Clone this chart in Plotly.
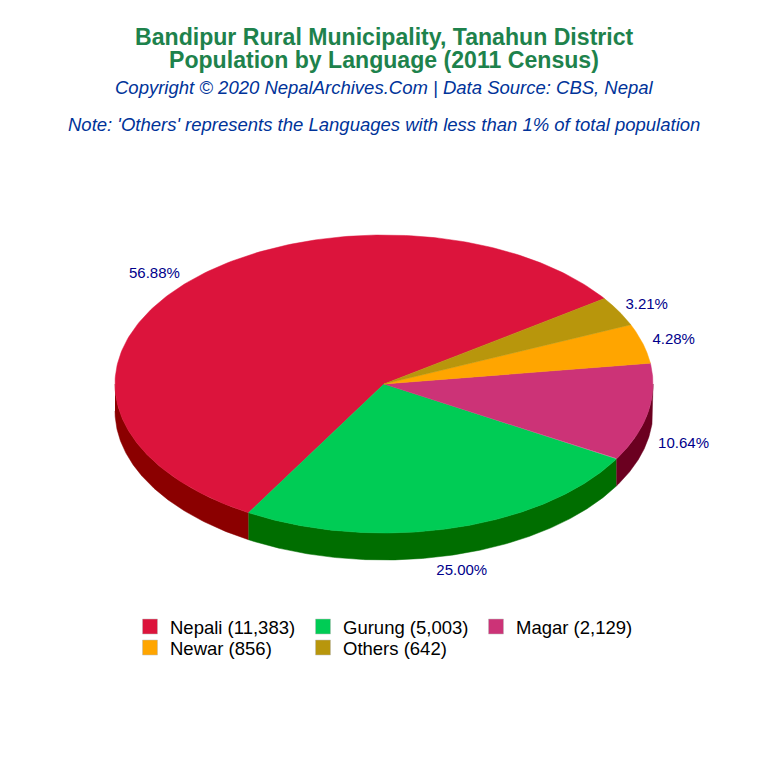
import numpy as np
import plotly.graph_objects as go

### Data ###
languages = ['Nepali', 'Gurung', 'Magar', 'Newar', 'Others']
population = [11383, 5003, 2129, 856, 642]
percent_labels = ['56.88%', '25.00%', '10.64%', '4.28%', '3.21%']
top_colors = ['#DC143C', '#00CC55', '#CC3377', '#FFA500', '#B8960C']
side_colors = ['#8B0000', '#006E00', '#6B0020', '#B87700', '#7A6408']
legend_groups = ['legend', 'legend', 'legend', 'legend2', 'legend2']

title_lines = ['Bandipur Rural Municipality, Tanahun District',
               'Population by Language (2011 Census)']
subtitle = 'Copyright © 2020 NepalArchives.Com | Data Source: CBS, Nepal'
note = "Note: 'Others' represents the Languages with less than 1% of total population"

### Pie geometry (pixel space of the 768 x 768 page) ###
cx, cy = 384, 384
rx, ry = 269, 149
depth = 27
start_angle = 35

total = sum(population)
sweeps = [p / total * 360 for p in population]
starts = start_angle + np.cumsum([0] + sweeps[:-1])
ends = starts + np.array(sweeps)


def arc(a0, a1, drop=0):
    t = np.radians(np.linspace(a0, a1, 200))
    return cx + rx * np.cos(t), cy - ry * np.sin(t) + drop


fig = go.Figure()

# side walls, only the front half of the rim shows
for a0, a1, color in zip(starts, ends, side_colors):
    for lo, hi in [(180, 360), (540, 720)]:
        s, e = max(a0, lo), min(a1, hi)
        if s >= e:
            continue
        x1, y1 = arc(s, e)
        x2, y2 = arc(e, s, depth)
        fig.add_trace(go.Scatter(x=np.r_[x1, x2], y=np.r_[y1, y2], mode='lines',
                                 fill='toself', fillcolor=color,
                                 line=dict(color=color, width=0.5),
                                 hoverinfo='skip', showlegend=False))

# top face
for a0, a1, color in zip(starts, ends, top_colors):
    x1, y1 = arc(a0, a1)
    fig.add_trace(go.Scatter(x=np.r_[cx, x1, cx], y=np.r_[cy, y1, cy], mode='lines',
                             fill='toself', fillcolor=color,
                             line=dict(color=color, width=0.5),
                             hoverinfo='skip', showlegend=False))

# percent labels, pushed out from the rim along the mid angle of the slice
mids = np.radians((starts + ends) / 2)
label_x = []
label_y = []
for mid, label in zip(mids, percent_labels):
    w = 8.5 * len(label)
    push = 1.04 if np.cos(mid) > 0 else 1.065
    label_x.append(cx + push * rx * np.cos(mid) + w * np.cos(mid) / 2)
    drop = depth + 2 if np.sin(mid) < 0 else 1
    label_y.append(cy - 1.05 * ry * np.sin(mid) - 7 * np.sin(mid) + drop)
fig.add_trace(go.Scatter(x=label_x, y=label_y, mode='text', text=percent_labels,
                         textposition='middle center',
                         textfont=dict(family='Liberation Sans', size=15, color='#00008B'),
                         hoverinfo='skip', showlegend=False))

# legend entries, one legend per row so the rows can sit as tight as the original
for lang, pop, color, group in zip(languages, population, top_colors, legend_groups):
    fig.add_trace(go.Scatter(x=[None], y=[None], mode='markers', name=f'{lang} ({pop:,})',
                             legend=group,
                             marker=dict(symbol='square', size=15, color=color,
                                         line=dict(color='#BBBBBB', width=0.5))))


def page_text(text, y, size, color, bold=False, italic=False):
    fig.add_annotation(x=0.5, y=1 - y / 768, xref='paper', yref='paper',
                       text=f'<b>{text}</b>' if bold else text, showarrow=False,
                       xanchor='center', yanchor='middle',
                       font=dict(family='Liberation Sans', size=size, color=color,
                                 style='italic' if italic else 'normal'))


page_text(title_lines[0], 37, 23.1, '#1E824C', bold=True)
page_text(title_lines[1], 60, 23.1, '#1E824C', bold=True)
page_text(subtitle, 87, 18.5, '#003399', italic=True)
page_text(note, 124, 18.5, '#003399', italic=True)

legend_style = dict(orientation='h', xanchor='left', yanchor='top',
                    entrywidth=128, entrywidthmode='pixels',
                    bgcolor='rgba(0,0,0,0)',
                    font=dict(family='Liberation Sans', size=18.5, color='black'))

fig.update_layout(width=768, height=768,
                  margin=dict(l=0, r=0, t=0, b=0, autoexpand=False),
                  paper_bgcolor='white', plot_bgcolor='white',
                  xaxis=dict(range=[0, 768], visible=False, fixedrange=True),
                  yaxis=dict(range=[768, 0], visible=False, fixedrange=True),
                  legend=dict(x=130 / 768, y=1 - 608 / 768, **legend_style),
                  legend2=dict(x=130 / 768, y=1 - 629 / 768, **legend_style))

fig.write_html("out.html", config={'displayModeBar': False},
               post_script="document.body.style.margin = '0';")
